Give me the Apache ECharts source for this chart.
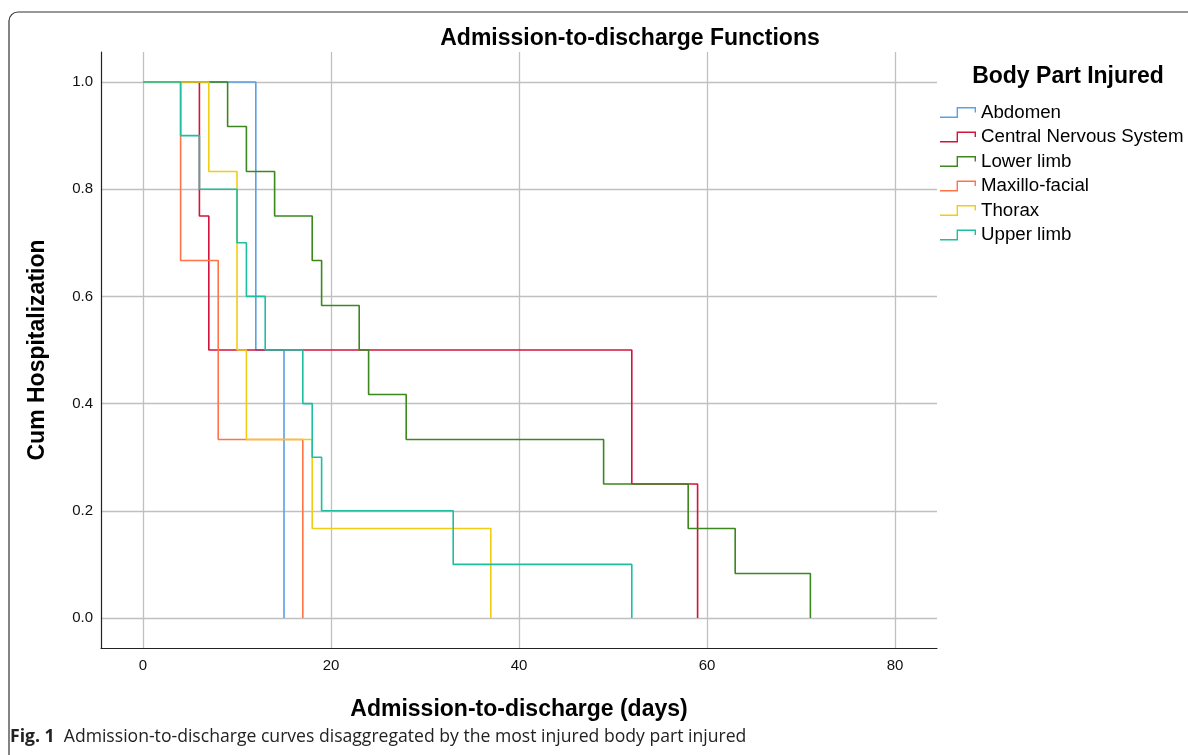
<!DOCTYPE html>
<html><head><meta charset="utf-8">
<script src="https://cdn.jsdelivr.net/npm/echarts@6/dist/echarts.min.js"></script>
<style>html,body{margin:0;padding:0;background:#fff}#c{width:1188px;height:755px}</style>
</head><body><div id="c"></div>
<script>
// ---- data ----
const seriesNames = ['Abdomen', 'Central Nervous System', 'Lower limb', 'Maxillo-facial', 'Thorax', 'Upper limb'];
const abdomenDays = [0, 12, 15];
const abdomenCum = [1, 0.5, 0];
const cnsDays = [0, 6, 7, 52, 59];
const cnsCum = [1, 0.75, 0.5, 0.25, 0];
const lowerLimbDays = [0, 9, 11, 14, 18, 19, 23, 24, 28, 49, 58, 63, 71];
const lowerLimbCum = [1, 0.917, 0.833, 0.75, 0.667, 0.583, 0.5, 0.417, 0.333, 0.25, 0.167, 0.083, 0];
const maxilloDays = [0, 4, 8, 17];
const maxilloCum = [1, 0.667, 0.333, 0];
const thoraxDays = [0, 7, 10, 11, 18, 37];
const thoraxCum = [1, 0.833, 0.5, 0.333, 0.167, 0];
const upperLimbDays = [0, 4, 6, 10, 11, 13, 17, 18, 19, 33, 52];
const upperLimbCum = [1, 0.9, 0.8, 0.7, 0.6, 0.5, 0.4, 0.3, 0.2, 0.1, 0];
const seriesColors = ['#5aa0e6', '#d2143c', '#3c871e', '#ff7346', '#f0cd14', '#1ebea0'];

const allDays = [abdomenDays, cnsDays, lowerLimbDays, maxilloDays, thoraxDays, upperLimbDays];
const allCum = [abdomenCum, cnsCum, lowerLimbCum, maxilloCum, thoraxCum, upperLimbCum];

const FONT = '"Liberation Sans", Arial, sans-serif';
const stepIcon = 'path://M0,9.6 L16.6,9.6 L16.6,0 L36,0 L36,5.5 L34.6,5.5 L34.6,1.4 L18,1.4 L18,11 L0,11 Z';

const chart = echarts.init(document.getElementById('c'), null, {renderer: 'canvas'});
const series = seriesNames.map((name, k) => ({
  name: name,
  type: 'line',
  step: 'end',
  symbol: 'none',
  clip: false,
  color: seriesColors[k],
  lineStyle: {width: 1.6, color: seriesColors[k]},
  data: allDays[k].map((d, i) => [d, allCum[k][i]])
}));

chart.setOption({
  animation: false,
  backgroundColor: '#fff',
  title: [
    {text: 'Admission-to-discharge Functions', left: 625, top: 22, textAlign: 'center',
     textStyle: {fontFamily: FONT, fontWeight: 'bold', fontSize: 23, color: '#000'}},
    {text: 'Body Part Injured', left: 1063, top: 60, textAlign: 'center',
     textStyle: {fontFamily: FONT, fontWeight: 'bold', fontSize: 23, color: '#000'}}
  ],
  legend: {
    orient: 'vertical', left: 940, top: 103, padding: 0,
    itemWidth: 36, itemHeight: 11, itemGap: 5.5, itemTextGap: 4,
    symbolKeepAspect: false,
    icon: stepIcon,
    itemStyle: {borderWidth: 0},
    textStyle: {fontFamily: FONT, fontSize: 18.7, color: '#000', lineHeight: 18},
    data: seriesNames
  },
  grid: {left: 101, right: 251, top: 52, bottom: 107, containLabel: false},
  xAxis: {
    type: 'value', min: -4.47, max: 84.47, splitNumber: 5,
    name: 'Admission-to-discharge (days)', nameLocation: 'middle', nameGap: 50,
    nameTextStyle: {fontFamily: FONT, fontWeight: 'bold', fontSize: 23, color: '#000'},
    axisLine: {show: true, onZero: false, lineStyle: {color: '#222', width: 1.2}},
    axisTick: {show: false},
    axisLabel: {show: true, showMinLabel: false, showMaxLabel: false, margin: 10,
      fontFamily: FONT, fontSize: 15, color: '#111', formatter: v => String(v)},
    splitLine: {show: true, showMinLine: false, showMaxLine: false, lineStyle: {color: '#c0c0c0', width: 1.3}}
  },
  yAxis: {
    type: 'value', min: -0.056, max: 1.056, splitNumber: 5,
    name: 'Cum Hospitalization', nameLocation: 'middle', nameGap: 52,
    nameTextStyle: {fontFamily: FONT, fontWeight: 'bold', fontSize: 23, color: '#000'},
    axisLine: {show: true, onZero: false, lineStyle: {color: '#222', width: 1.2}},
    axisTick: {show: false},
    axisLabel: {show: true, showMinLabel: false, showMaxLabel: false, margin: 8,
      fontFamily: FONT, fontSize: 15, color: '#111', formatter: v => v.toFixed(1)},
    splitLine: {show: true, showMinLine: false, showMaxLine: false, lineStyle: {color: '#c0c0c0', width: 1.3}}
  },
  graphic: [
    {type: 'rect', silent: true, z: -1,
     shape: {x: 9, y: 12, width: 1300, height: 900, r: 9},
     style: {fill: 'none', stroke: '#333', lineWidth: 1.2}},
    {type: 'text', left: 10, top: 728, silent: true,
     style: {
       text: '{b|Fig. 1}  Admission-to-discharge curves disaggregated by the most injured body part injured',
       font: '17.6px "Open Sans", sans-serif', fill: '#222',
       rich: {b: {fontFamily: '"Open Sans", sans-serif', fontWeight: 'bold', fontSize: 17.6, fill: '#222'}}
     }}
  ],
  series: series
});
</script>
</body></html>
